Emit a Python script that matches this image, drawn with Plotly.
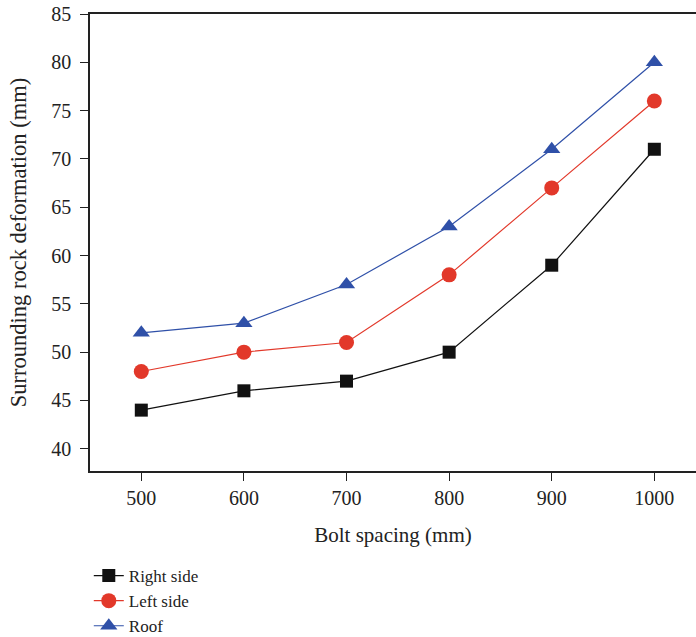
import plotly.graph_objects as go

spacing = [500, 600, 700, 800, 900, 1000]
right_side = [44, 46, 47, 50, 59, 71]
left_side = [48, 50, 51, 58, 67, 76]
roof = [52, 53, 57, 63, 71, 80]

x_ticks = [500, 600, 700, 800, 900, 1000]
y_ticks = [40, 45, 50, 55, 60, 65, 70, 75, 80, 85]

FONT = "Liberation Serif"

fig = go.Figure()
fig.add_trace(go.Scatter(x=spacing, y=right_side, name="Right side", mode="lines+markers",
                         line=dict(color="#111111", width=1.2),
                         marker=dict(symbol="square", size=13, color="#111111")))
fig.add_trace(go.Scatter(x=spacing, y=left_side, name="Left side", mode="lines+markers",
                         line=dict(color="#e2382a", width=1.2),
                         marker=dict(symbol="circle", size=15, color="#e2382a")))
fig.add_trace(go.Scatter(x=spacing, y=roof, name="Roof", mode="lines+markers",
                         line=dict(color="#2f50a8", width=1.2),
                         marker=dict(symbol="triangle-up", size=15, color="#2f50a8")))

fig.update_layout(
    width=696, height=637,
    margin=dict(l=90, r=0, t=14, b=166, autoexpand=False),
    paper_bgcolor="white", plot_bgcolor="white",
    font=dict(family=FONT, size=18, color="#222222"),
    showlegend=True,
    legend=dict(x=-0.002, y=-0.1904, xanchor="left", yanchor="top",
                font=dict(family=FONT, size=17, color="#222222"),
                tracegroupgap=0, itemwidth=30, bgcolor="rgba(0,0,0,0)"),
    xaxis=dict(range=[450, 1040.6], tickvals=x_ticks, ticks="outside", ticklen=8,
               tickcolor="#222222", showline=True, linecolor="#222222", linewidth=1.5,
               mirror=True, showgrid=False, zeroline=False, automargin=False,
               ticklabeloverflow="allow",
               tickfont=dict(family=FONT, size=20),
               title=dict(text="Bolt spacing (mm)", standoff=20,
                          font=dict(family=FONT, size=21))),
    yaxis=dict(range=[37.7, 85], tickvals=y_ticks, ticks="outside", ticklen=8,
               tickcolor="#222222", showline=True, linecolor="#222222", linewidth=1.5,
               showgrid=False, zeroline=False, automargin=False, ticklabelstandoff=5,
               ticklabeloverflow="allow",
               tickfont=dict(family=FONT, size=20),
               title=dict(text="Surrounding rock deformation (mm)", standoff=18,
                          font=dict(family=FONT, size=22.5))),
)

fig.write_html("out.html", config={"displayModeBar": False},
               post_script="document.body.style.margin='0';document.body.style.overflow='hidden';")
